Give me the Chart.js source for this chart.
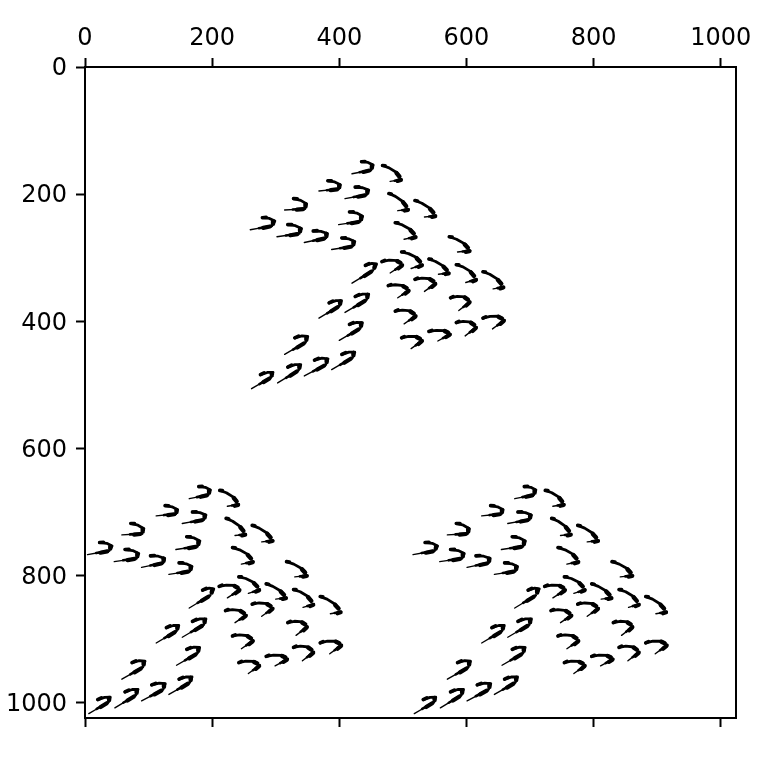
<!DOCTYPE html>
<html>
<head>
<meta charset="utf-8">
<style>
    html, body { margin: 0; padding: 0; background: #fff; }
    canvas { display: block; }
</style>
<script src="https://cdn.jsdelivr.net/npm/chart.js@4"></script>
</head>
<body>
<canvas id="chart" width="781" height="759"></canvas>
<script>
// Where each small figure sits in the top cluster.
// tail = thin end, end = far end of the spine, top = start of the upper arc
const tailX = [420,368,409,314,399,260,302,345,388,480,492,534,502,586,420,480,513,556,599,642,534,492,588,502,598,641,555,513,368,409,400,314,262,303,345,388];
const tailY = [168,195,207,225,248,256,267,276,287,180,226,236,271,291,340,324,317,326,339,349,353,363,383,404,423,412,431,443,395,386,430,452,506,497,486,476];
const endX = [450,399,443,346,433,294,337,379,421,498,509,552,521,606,453,500,531,573,616,659,552,510,606,521,616,660,575,531,400,443,433,347,293,336,379,421];
const endY = [162,192,201,223,243,250,262,269,282,177,224,234,267,289,320,311,311,324,334,346,340,351,369,391,409,398,420,430,376,366,411,433,488,477,468,457];
const topX = [435,382,425,328,416,279,319,359,404,468,478,519,488,573,441,467,498,541,584,626,519,477,575,488,584,626,541,498,384,425,416,330,276,319,361,404];
const topY = [149,179,189,207,228,237,248,258,269,155,199,210,245,267,312,306,291,302,311,322,334,344,363,384,402,395,416,426,371,361,405,426,484,472,461,452];

// The same cluster shows up again in the lower left and lower right
const clusterDx = [0, -256, 256];
const clusterDy = [0, 511, 511];

// One figure, as fractions of (tail -> end) and (tail -> top)
const thinU = [0, 0.55];
const thinV = [0, 0];
const spineU = [0.4, 1];
const spineV = [0, 0];
const arcU = [0, 0.44, 0.89, 0.94];
const arcV = [1, 0.8, 0.44, 0.18];
const lowerBlobU = [0.62, 0.92];
const lowerBlobV = [-0.04, -0.02];
const headBlobU = [0, 0.2];
const headBlobV = [1, 0.96];
const hookBlobU = [0.84, 0.94];
const hookBlobV = [0.42, 0.2];

const axisTicks = [0, 200, 400, 600, 800, 1000];
const axisMax = 1024;

/**
 * Turn a stroke of the figure into chart points for every figure in every cluster
 * @param {Number[]} us Fractions along tail -> end
 * @param {Number[]} vs Fractions along tail -> top
 */
function buildStrokes(us, vs) {
    let points = [];
    clusterDx.forEach((dx, c) => {
        tailX.forEach((x, i) => {
            us.forEach((u, k) => {
                let v = vs[k];
                points.push({
                    x: x + u * (endX[i] - x) + v * (topX[i] - x) + dx,
                    y: tailY[i] + u * (endY[i] - tailY[i]) + v * (topY[i] - tailY[i]) + clusterDy[c]
                });
            });
            // break the line between figures
            points.push({ x: NaN, y: NaN });
        });
    });
    return points;
}

function strokeDataset(label, data, width) {
    return {
        label: label,
        data: data,
        showLine: true,
        spanGaps: false,
        borderColor: '#000',
        borderWidth: width,
        borderCapStyle: 'round',
        borderJoinStyle: 'round',
        pointRadius: 0,
        tension: 0
    };
}

const tickFont = { family: '"DejaVu Sans"', size: 24 };
// small line height + empty first line nudges the y labels down 2px
const yTickFont = { family: '"DejaVu Sans"', size: 24, lineHeight: 4 / 24 };
const axisBorder = { display: true, color: '#000', width: 2 };
const tickGrid = { drawOnChartArea: false, drawTicks: true, tickLength: 9, tickWidth: 2, tickColor: '#000' };

function fixedSize(prop, size) {
    return scale => { scale[prop] = size; };
}

function fixedTicks(scale) {
    scale.ticks = axisTicks.map(v => ({ value: v }));
}

new Chart(document.getElementById('chart').getContext('2d'), {
    type: 'scatter',
    data: {
        datasets: [
            strokeDataset('thin', buildStrokes(thinU, thinV), 1.4),
            strokeDataset('spine', buildStrokes(spineU, spineV), 2.6),
            strokeDataset('arc', buildStrokes(arcU, arcV), 2.8),
            strokeDataset('lowerBlob', buildStrokes(lowerBlobU, lowerBlobV), 4.2),
            strokeDataset('headBlob', buildStrokes(headBlobU, headBlobV), 3.6),
            strokeDataset('hookBlob', buildStrokes(hookBlobU, hookBlobV), 4.4)
        ]
    },
    options: {
        responsive: false,
        animation: false,
        layout: { padding: 0 },
        plugins: { legend: { display: false }, tooltip: { enabled: false } },
        scales: {
            x: {
                type: 'linear',
                position: 'top',
                min: 0,
                max: axisMax,
                afterBuildTicks: fixedTicks,
                afterFit: fixedSize('height', 67),
                border: axisBorder,
                grid: tickGrid,
                ticks: { color: '#000', font: tickFont, padding: 5, maxRotation: 0, autoSkip: false, callback: v => String(v) }
            },
            y: {
                type: 'linear',
                position: 'left',
                reverse: true,
                min: 0,
                max: axisMax,
                afterBuildTicks: fixedTicks,
                afterFit: fixedSize('width', 85),
                border: axisBorder,
                grid: tickGrid,
                ticks: { color: '#000', font: yTickFont, padding: 9, autoSkip: false, callback: v => ['', String(v)] }
            },
            xBottom: {
                type: 'linear',
                position: 'bottom',
                min: 0,
                max: axisMax,
                afterBuildTicks: fixedTicks,
                afterFit: fixedSize('height', 41),
                border: axisBorder,
                grid: tickGrid,
                ticks: { callback: () => '', autoSkip: false }
            },
            yRight: {
                type: 'linear',
                position: 'right',
                min: 0,
                max: axisMax,
                afterFit: fixedSize('width', 45),
                border: axisBorder,
                grid: { display: false, drawTicks: false },
                ticks: { display: false }
            }
        }
    }
});
</script>
</body>
</html>
